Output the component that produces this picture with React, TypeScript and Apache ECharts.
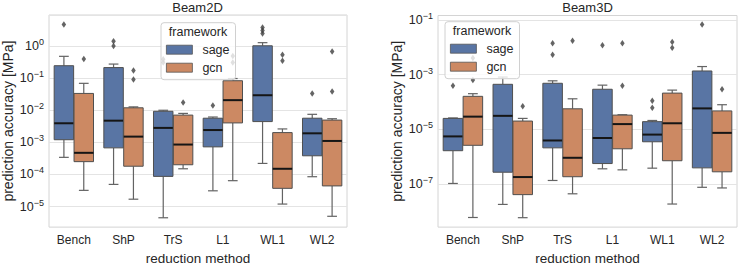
import React, { useEffect, useRef } from "react";
import * as echarts from "echarts";

const categories = ["Bench", "ShP", "TrS", "L1", "WL1", "WL2"];
const frameworkNames = ["sage", "gcn"];
const panelTitles = ["Beam2D", "Beam3D"];
const yAxisTitle = "prediction accuracy [MPa]";
const xAxisTitle = "reduction method";
const legendTitle = "framework";

// each row: [lower whisker, Q1, median, Q3, upper whisker]
const beam2dSage = [
  [3.4e-4, 1.2e-3, 3.9e-3, 0.24, 0.47],
  [4.9e-5, 6.7e-4, 4.7e-3, 0.21, 0.27],
  [4.5e-6, 8.7e-5, 2.8e-3, 9.2e-3, 9.9e-3],
  [3.1e-5, 7.2e-4, 2.4e-3, 5.6e-3, 6.1e-3],
  [2.2e-4, 4.4e-3, 0.029, 1.0, 1.25],
  [8.5e-5, 3.8e-4, 1.9e-3, 5.6e-3, 7.4e-3],
];
const beam2dGcn = [
  [3.2e-5, 2.5e-4, 4.7e-4, 0.033, 0.068],
  [1.7e-5, 1.8e-4, 1.5e-3, 0.0118, 0.0126],
  [1.5e-4, 2.0e-4, 8.5e-4, 7.0e-3, 7.9e-3],
  [6.4e-5, 4.0e-3, 0.0204, 0.082, 0.096],
  [1.2e-5, 3.7e-5, 1.5e-4, 2.0e-3, 2.6e-3],
  [5.0e-6, 4.4e-5, 1.1e-3, 4.9e-3, 5.4e-3],
];
const beam2dSageOutliers = [[4.6], [1.38, 0.99], [0.38, 0.3], [0.014], [3.7, 3.0, 2.4], [0.033]];
const beam2dGcnOutliers = [[0.39], [0.17, 0.089], [0.0174], [0.48, 0.3], [0.53, 0.34], [0.66, 0.038]];

const beam3dSage = [
  [1.05e-7, 1.65e-6, 5.5e-6, 2.5e-5, 2.6e-5],
  [1.8e-8, 2.7e-7, 3.1e-5, 4.4e-4, 8.1e-4],
  [1.35e-7, 2.1e-6, 3.9e-6, 4.8e-4, 5.9e-4],
  [3.6e-7, 5.6e-7, 4.8e-6, 2.9e-4, 4.1e-4],
  [3.8e-7, 3.5e-6, 6.4e-6, 1.9e-5, 2.1e-5],
  [7.6e-8, 3.9e-7, 5.8e-5, 1.35e-3, 1.96e-3],
];
const beam3dGcn = [
  [6.0e-9, 2.6e-6, 2.9e-5, 1.6e-4, 2.0e-4],
  [5.9e-9, 4.1e-8, 1.8e-7, 2.0e-5, 2.5e-5],
  [4.4e-8, 1.85e-7, 9.1e-7, 5.6e-5, 1.3e-4],
  [3.3e-7, 1.94e-6, 1.55e-5, 3.3e-5, 3.4e-5],
  [1.86e-8, 7.1e-7, 1.66e-5, 2.1e-4, 2.7e-4],
  [7.2e-8, 2.8e-7, 7.4e-6, 4.7e-5, 7.9e-5],
];
const beam3dSageOutliers = [[3.9e-4], [], [0.0138, 0.0053], [0.0118], [1.1e-4, 6.1e-5], [0.067]];
const beam3dGcnOutliers = [[6.3e-4, 4e-3], [6.9e-5], [0.017], [0.0138, 3.9e-4], [0.0155, 0.0095], [2.9e-4]];

// log10 extents of the y axes
const beam2dLogRange = [-5.637, 0.957];
const beam3dLogRange = [-8.573, -0.843];

const FONT = "'Liberation Sans', Arial, Helvetica, sans-serif";
const TEXT = "#262626";
const FILLS = ["#5975A4", "#CC8963"];
const EDGE = "#4f4f4f";
const WHISKER = "#636363";
const MEDIAN = "#151515";
const GRIDLINE = "#e4e4e4";
const FRAME = "#d4d4d4";

const grids = [
  { left: 48, top: 15, width: 299, height: 222.5 },
  { left: 438, top: 15.5, width: 299, height: 222 },
];

function expLabel(v: number, everyOther: boolean) {
  const e = Math.log10(v);
  const r = Math.round(e);
  if (Math.abs(e - r) > 1e-6) return "";
  if (everyOther && Math.abs(r) % 2 !== 1) return "";
  const s = r < 0 ? "\u2212" + Math.abs(r) : String(r);
  return `{b|10}{s|${s}}`;
}

function makeRenderItem(side: number, fill: string) {
  return (params: any, api: any) => {
    const cat = api.value(0);
    const lo = api.coord([cat, api.value(1)]);
    const band = api.coord([1, api.value(1)])[0] - api.coord([0, api.value(1)])[0];
    const bw = band * 0.392;
    const cx = lo[0] + side * band * 0.2;
    const yLo = lo[1];
    const yQ1 = api.coord([cat, api.value(2)])[1];
    const yMed = api.coord([cat, api.value(3)])[1];
    const yQ3 = api.coord([cat, api.value(4)])[1];
    const yHi = api.coord([cat, api.value(5)])[1];
    const wStyle = { stroke: WHISKER, lineWidth: 1.2, fill: "none" };
    return {
      type: "group",
      children: [
        { type: "line", shape: { x1: cx, y1: yHi, x2: cx, y2: yQ3 }, style: wStyle },
        { type: "line", shape: { x1: cx, y1: yQ1, x2: cx, y2: yLo }, style: wStyle },
        { type: "line", shape: { x1: cx - bw / 4, y1: yHi, x2: cx + bw / 4, y2: yHi }, style: wStyle },
        { type: "line", shape: { x1: cx - bw / 4, y1: yLo, x2: cx + bw / 4, y2: yLo }, style: wStyle },
        {
          type: "rect",
          shape: { x: cx - bw / 2, y: yQ3, width: bw, height: yQ1 - yQ3 },
          style: { fill, stroke: EDGE, lineWidth: 1 },
        },
        {
          type: "line",
          shape: { x1: cx - bw / 2, y1: yMed, x2: cx + bw / 2, y2: yMed },
          style: { stroke: MEDIAN, lineWidth: 2 },
        },
      ],
    };
  };
}

export default function App() {
  const ref = useRef<HTMLDivElement>(null);
  useEffect(() => {
    if (!ref.current) return;
    const chart = echarts.init(ref.current, null, { renderer: "svg" });

    const panels = [
      { stats: [beam2dSage, beam2dGcn], outliers: [beam2dSageOutliers, beam2dGcnOutliers], range: beam2dLogRange },
      { stats: [beam3dSage, beam3dGcn], outliers: [beam3dSageOutliers, beam3dGcnOutliers], range: beam3dLogRange },
    ];

    const series: any[] = [];
    panels.forEach((p, gi) => {
      const band = grids[gi].width / categories.length;
      frameworkNames.forEach((name, fi) => {
        const side = fi === 0 ? -1 : 1;
        series.push({
          type: "custom",
          name,
          xAxisIndex: gi,
          yAxisIndex: gi,
          itemStyle: { color: FILLS[fi] },
          encode: { x: 0, y: [1, 2, 3, 4, 5] },
          renderItem: makeRenderItem(side, FILLS[fi]),
          data: p.stats[fi].map((row, ci) => [ci, ...row]),
          z: 2,
        });
        const pts: any[] = [];
        p.outliers[fi].forEach((arr, ci) => arr.forEach((v) => pts.push([categories[ci], v])));
        series.push({
          type: "scatter",
          name,
          xAxisIndex: gi,
          yAxisIndex: gi,
          symbol: "diamond",
          symbolSize: [4.5, 6.5],
          symbolOffset: [side * band * 0.2, 0],
          itemStyle: { color: "#3d3d3d" },
          data: pts,
          z: 3,
        });
      });
    });

    const legendData = frameworkNames.map((n, i) => ({
      name: n,
      icon: "rect",
      itemStyle: { color: FILLS[i], borderColor: "#555", borderWidth: 0.8 },
    }));
    const legendPos = [
      { left: 161, top: 22.7 },
      { left: 445, top: 21.7 },
    ];

    chart.setOption({
      animation: false,
      textStyle: { fontFamily: FONT },
      title: panelTitles.map((t, i) => ({
        text: t,
        left: grids[i].left + grids[i].width / 2,
        textAlign: "center",
        top: 1,
        padding: 0,
        textStyle: { fontSize: 13, fontWeight: "normal", color: TEXT, fontFamily: FONT },
      })),
      grid: grids.map((g) => ({ ...g, show: true, borderColor: FRAME, borderWidth: 1, backgroundColor: "transparent" })),
      legend: legendPos.map((lp) => ({
        ...lp,
        orient: "vertical",
        data: legendData,
        itemWidth: 26,
        itemHeight: 9,
        itemGap: 4,
        padding: [20, 6, 5, 5],
        backgroundColor: "rgba(255,255,255,0.8)",
        borderColor: "#d0d0d0",
        borderWidth: 1,
        borderRadius: 3,
        selectedMode: false,
        textStyle: { fontSize: 12.5, color: TEXT, fontFamily: FONT, lineHeight: 14, padding: [0, 0, 0, 5] },
        z: 10,
      })),
      graphic: legendPos.map((lp) => ({
        type: "text",
        x: lp.left + 37,
        y: lp.top + 9.5,
        z: 100,
        style: {
          text: legendTitle,
          fill: TEXT,
          font: `12.5px ${FONT}`,
          textAlign: "center",
          textVerticalAlign: "middle",
        },
      })),
      xAxis: grids.map((g, i) => ({
        type: "category",
        gridIndex: i,
        data: categories,
        axisLine: { show: false },
        axisTick: { show: false },
        splitLine: { show: false },
        axisLabel: { fontSize: 12, color: TEXT, margin: 7, fontFamily: FONT },
        name: xAxisTitle,
        nameLocation: "middle",
        nameGap: 19,
        nameTextStyle: { fontSize: 13.5, color: TEXT, fontFamily: FONT },
      })),
      yAxis: panels.map((p, i) => ({
        type: "log",
        logBase: 10,
        gridIndex: i,
        min: Math.pow(10, p.range[0]),
        max: Math.pow(10, p.range[1]),
        axisLine: { show: false },
        axisTick: { show: false },
        splitLine: {
          show: true,
          lineStyle: { color: i === 0 ? GRIDLINE : [GRIDLINE, "rgba(0,0,0,0)"], width: 1 },
        },
        axisLabel: {
          showMinLabel: false,
          showMaxLabel: false,
          margin: 5,
          color: TEXT,
          formatter: (v: number) => expLabel(v, i === 1),
          rich: {
            b: { fontSize: 12.5, color: TEXT, fontFamily: FONT },
            s: { fontSize: 9, color: TEXT, fontFamily: FONT, padding: [0, 0, 8, 0] },
          },
        },
        name: yAxisTitle,
        nameLocation: "middle",
        nameGap: 34,
        nameTextStyle: { fontSize: 14, color: TEXT, fontFamily: FONT },
      })),
      series,
    });
    return () => chart.dispose();
  }, []);
  return (
    <div
      ref={ref}
      style={{ position: "absolute", left: 0, top: 0, width: 739, height: 270, background: "#fff" }}
    />
  );
}
